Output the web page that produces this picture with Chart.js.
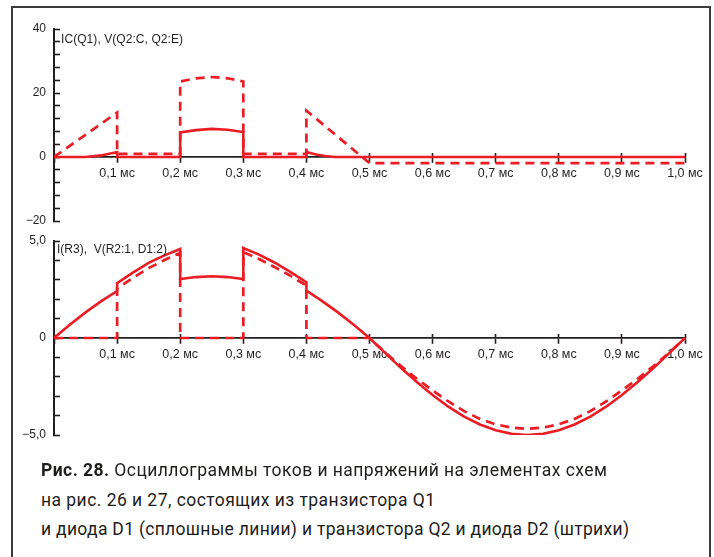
<!DOCTYPE html>
<html lang="ru">
<head>
<meta charset="utf-8">
<title>Рис. 28</title>
<script src="https://cdn.jsdelivr.net/npm/chart.js"></script>
<style>
  html, body { margin: 0; padding: 0; background: #fff; }
  body { width: 714px; height: 557px; position: relative; overflow: hidden; font-family: "Liberation Sans", Arial, sans-serif; color: #231f20; }
  .frame { position: absolute; left: 11px; top: 6px; width: 696px; height: 600px; border: 2px solid #3b3b3b; }
  canvas { position: absolute; left: 0; }
  #topChart { top: 0; }
  #bottomChart { top: 230px; }
  .trace { position: absolute; font-size: 12px; line-height: 14px; white-space: nowrap; }
  .caption { position: absolute; left: 41px; font-family: Roboto, "Liberation Sans", sans-serif; font-size: 17.5px; line-height: 20px; white-space: nowrap; color: #1d1d1b; }
  .caption b { font-weight: 700; }
</style>
</head>
<body>
<div class="frame"></div>
<canvas id="topChart" width="714" height="240"></canvas>
<canvas id="bottomChart" width="714" height="230"></canvas>
<div class="trace" id="topTitle" style="left:61px; top:32px;">IC(Q1), V(Q2:C, Q2:E)</div>
<div class="trace" id="bottomTitle" style="left:57px; top:242px;">I(R3),&nbsp; V(R2:1, D1:2)</div>
<div class="caption" id="cap1" style="top:460px;"><b>Рис. 28.</b> Осциллограммы токов и напряжений на элементах схем</div>
<div class="caption" id="cap2" style="top:490px;">на рис. 26 и 27, состоящих из транзистора Q1</div>
<div class="caption" id="cap3" style="top:519px;">и диода D1 (сплошные линии) и транзистора Q2 и диода D2 (штрихи)</div>

<script>
// time axis, ms
const xTickValues = [0, 0.1, 0.2, 0.3, 0.4, 0.5, 0.6, 0.7, 0.8, 0.9, 1.0];
const xTickLabels = ['', '0,1 мс', '0,2 мс', '0,3 мс', '0,4 мс', '0,5 мс', '0,6 мс', '0,7 мс', '0,8 мс', '0,9 мс', '1,0 мс'];

// upper plot: IC(Q1) solid, V(Q2:C, Q2:E) dashed
const topYTicks = [-20, -16, -12, -8, -4, 0, 4, 8, 12, 16, 20, 24, 28, 32, 36, 40];
const topYLabels = ['\u221220', '', '', '', '', '0', '', '', '', '', '20', '', '', '', '', '40'];
const topSolidT = [0, 0.05, 0.075, 0.1, 0.1, 0.2, 0.2, 0.225, 0.25, 0.275, 0.3, 0.3, 0.4, 0.4, 0.415, 0.43, 0.445, 1.0];
const topSolidV = [0, 0, 0.5, 1.55, 0, 0, 7.7, 8.4, 8.8, 8.5, 7.8, 0, 0, 1.55, 0.8, 0.3, 0, 0];
const topDashT = [0, 0.1, 0.1, 0.2, 0.2, 0.225, 0.25, 0.275, 0.3, 0.3, 0.4, 0.4, 0.5, 1.0];
const topDashV = [0, 13.9, 0.95, 0.95, 23.6, 24.6, 25.0, 24.6, 23.6, 0.95, 0.95, 14.5, -1.9, -1.9];

// lower plot: I(R3) solid, V(R2:1, D1:2) dashed
const botYTicks = [-5, -4, -3, -2, -1, 0, 1, 2, 3, 4, 5];
const botYLabels = ['\u22125,0', '', '', '', '', '0', '', '', '', '', '5,0'];
const botSolidT = [0, 0.025, 0.05, 0.075, 0.1, 0.1, 0.125, 0.15, 0.175, 0.2, 0.2, 0.225, 0.25, 0.275, 0.3, 0.3, 0.325, 0.35, 0.375, 0.4, 0.4, 0.425, 0.45, 0.475,
  0.5, 0.525, 0.55, 0.575, 0.6, 0.625, 0.65, 0.675, 0.7, 0.725, 0.75, 0.775, 0.8, 0.825, 0.85, 0.875, 0.9, 0.925, 0.95, 0.975, 1.0];
const botSolidV = [0, 0.68, 1.32, 1.9, 2.42, 2.83, 3.37, 3.87, 4.26, 4.59, 3.04, 3.14, 3.18, 3.14, 3.04, 4.64, 4.3, 3.88, 3.4, 2.88, 2.45, 1.9, 1.32, 0.68,
  0, -0.78, -1.55, -2.27, -2.94, -3.54, -4.05, -4.46, -4.76, -4.94, -5.0, -4.94, -4.76, -4.46, -4.05, -3.54, -2.94, -2.27, -1.55, -0.78, 0];
const botDashT = [0, 0.1, 0.1, 0.125, 0.15, 0.175, 0.2, 0.2, 0.3, 0.3, 0.325, 0.35, 0.375, 0.4, 0.4,
  0.5, 0.525, 0.55, 0.575, 0.6, 0.625, 0.65, 0.675, 0.7, 0.725, 0.75, 0.775, 0.8, 0.825, 0.85, 0.875, 0.9, 0.925, 0.95, 0.975, 1.0];
const botDashV = [0, 0, 2.55, 3.1, 3.6, 4.02, 4.38, 0, 0, 4.43, 4.07, 3.65, 3.2, 2.7, 0,
  0, -0.75, -1.45, -2.1, -2.7, -3.27, -3.77, -4.17, -4.45, -4.62, -4.68, -4.62, -4.45, -4.17, -3.77, -3.27, -2.7, -2.1, -1.45, -0.75, 0];

const RED = '#ec1c24';
const INK = '#231f20';

function pts(t, v) { return t.map((x, i) => ({ x: x, y: v[i] })); }

// keep label overhang from shrinking the plot area
function noPad(s) { s.paddingTop = 0; s.paddingBottom = 0; s.paddingLeft = 0; s.paddingRight = 0; }

function makeChart(id, solid, dashed, yMin, yMax, yTicks, yLabels, pad) {
  const xTicks = s => { s.ticks = xTickValues.map(v => ({ value: v })); };
  return new Chart(document.getElementById(id), {
    type: 'line',
    data: {
      datasets: [
        { data: dashed, borderColor: RED, borderWidth: 2.7, borderDash: [9, 6], xAxisID: 'x', yAxisID: 'y' },
        { data: solid, borderColor: RED, borderWidth: 2.6, xAxisID: 'x', yAxisID: 'y' }
      ]
    },
    options: {
      responsive: false,
      animation: false,
      layout: { padding: pad },
      elements: { point: { radius: 0 }, line: { tension: 0, borderCapStyle: 'butt' } },
      plugins: { legend: { display: false }, tooltip: { enabled: false } },
      scales: {
        x: {
          type: 'linear', axis: 'x', position: { y: 0 }, min: 0, max: 1,
          afterBuildTicks: xTicks,
          afterFit: noPad,
          grid: { drawOnChartArea: false, tickLength: 5, tickColor: INK, tickWidth: 1.6 },
          border: { color: INK, width: 1.8 },
          ticks: {
            padding: 4, maxRotation: 0, autoSkip: false, color: INK,
            font: { family: '"Liberation Sans", Arial, sans-serif', size: 12.5 },
            callback: (v, i) => xTickLabels[i]
          }
        },
        x2: {
          type: 'linear', axis: 'x', position: { y: 0 }, min: 0, max: 1, z: 1,
          afterBuildTicks: xTicks,
          afterFit: noPad,
          grid: { drawOnChartArea: false, tickLength: -4, tickColor: INK, tickWidth: 1.6 },
          border: { display: false },
          ticks: { display: false }
        },
        y: {
          type: 'linear', position: 'left', min: yMin, max: yMax,
          afterBuildTicks: s => { s.ticks = yTicks.map(v => ({ value: v })); },
          afterFit: s => { s.width = 54; noPad(s); },
          grid: { drawOnChartArea: false, tickLength: -6, tickColor: INK, tickWidth: 1.6 },
          border: { color: INK, width: 2 },
          ticks: {
            padding: 14, autoSkip: false, color: INK,
            font: { family: '"Liberation Sans", Arial, sans-serif', size: 12 },
            callback: (v, i) => yLabels[i]
          }
        }
      }
    }
  });
}

makeChart('topChart', pts(topSolidT, topSolidV), pts(topDashT, topDashV), -20, 40, topYTicks, topYLabels,
  { left: 0, right: 29, top: 29, bottom: 19 });
makeChart('bottomChart', pts(botSolidT, botSolidV), pts(botDashT, botDashV), -5, 5, botYTicks, botYLabels,
  { left: 0, right: 29, top: 11, bottom: 25 });

// stretch text lines to the widths measured on the original figure
function fitWidth(id, target) {
  const el = document.getElementById(id);
  el.style.letterSpacing = '0px';
  const w = el.getBoundingClientRect().width;
  const n = el.textContent.length - 1;
  el.style.letterSpacing = ((target - w) / n) + 'px';
}
fitWidth('topTitle', 122);
fitWidth('bottomTitle', 110);
fitWidth('cap1', 566);
fitWidth('cap2', 394);
fitWidth('cap3', 588);
</script>
</body>
</html>
